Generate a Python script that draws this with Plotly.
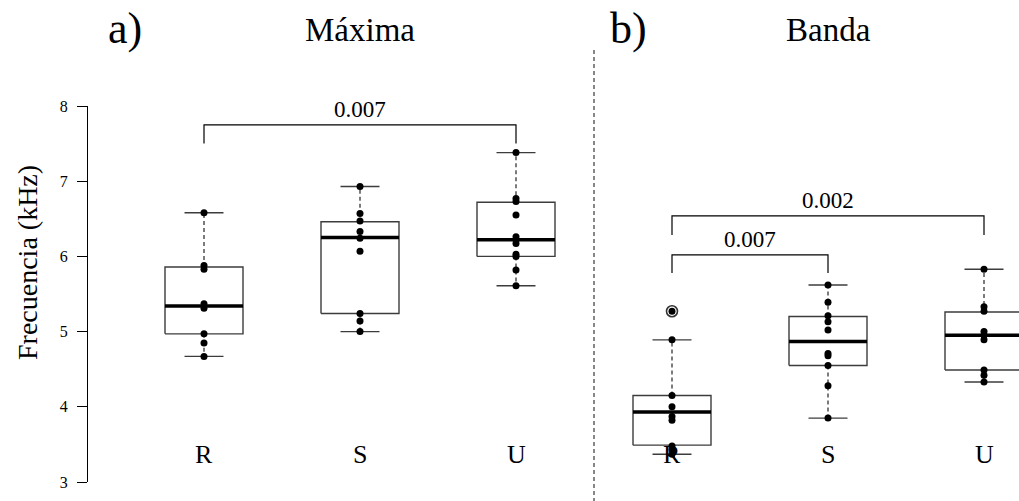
import plotly.graph_objects as go

# ---------------- data ----------------
categories = ["R", "S", "U"]
panels = ["Máxima", "Banda"]
panel_tags = ["a)", "b)"]

maxima_R = [6.58, 5.88, 5.83, 5.37, 5.31, 4.97, 4.85, 4.67]
maxima_S = [6.93, 6.57, 6.47, 6.33, 6.24, 6.07, 5.24, 5.14, 5.00]
maxima_U = [7.38, 6.77, 6.73, 6.55, 6.26, 6.22, 6.17, 6.03, 6.00, 5.82, 5.61]
banda_R = [5.27, 4.89, 4.15, 4.00, 3.87, 3.82, 3.48, 3.43, 3.37]
banda_S = [5.62, 5.39, 5.21, 5.13, 5.02, 4.71, 4.68, 4.55, 4.28, 3.85]
banda_U = [5.83, 5.33, 5.27, 5.00, 4.95, 4.89, 4.49, 4.42, 4.33]

# box statistics per group (order: Máxima R,S,U, Banda R,S,U)
q1_vals = [4.97, 5.24, 6.00, 3.49, 4.55, 4.49]
median_vals = [5.34, 6.25, 6.22, 3.93, 4.87, 4.95]
q3_vals = [5.86, 6.46, 6.72, 4.15, 5.20, 5.26]
lower_whisker = [4.67, 5.00, 5.61, 3.37, 3.85, 4.33]
upper_whisker = [6.58, 6.93, 7.38, 4.89, 5.62, 5.83]
outliers = [[], [], [], [5.27], [], []]

# significance brackets: (group a, group b, line level, drop-to level, label)
bracket_from = [1, 4, 4]
bracket_to = [3, 6, 5]
bracket_level = [7.75, 6.54, 6.02]
bracket_drop = [7.50, 6.285, 5.78]
bracket_label = ["0.007", "0.002", "0.007"]

y_ticks = [3, 4, 5, 6, 7, 8]
y_title = "Frecuencia (kHz)"

groups = [maxima_R, maxima_S, maxima_U, banda_R, banda_S, banda_U]
positions = [1, 2, 3, 4, 5, 6]

# ---------------- figure ----------------
FONT = "Liberation Serif"
fig = go.Figure()

BOX_HW = 0.25
CAP_HW = 0.125
BOX_COL = "#3c3c3c"

for p, q1, md, q3, lo, hi in zip(positions, q1_vals, median_vals, q3_vals,
                                 lower_whisker, upper_whisker):
    # dashed whiskers
    for a, b in ((q3, hi), (q1, lo)):
        fig.add_trace(go.Scatter(x=[p, p], y=[a, b], mode="lines",
                                 line=dict(color="#444444", width=1.4, dash="4px,3px"),
                                 hoverinfo="skip", showlegend=False))
    # caps
    for v in (lo, hi):
        fig.add_trace(go.Scatter(x=[p - CAP_HW, p + CAP_HW], y=[v, v], mode="lines",
                                 line=dict(color=BOX_COL, width=1.4),
                                 hoverinfo="skip", showlegend=False))
    # box
    fig.add_trace(go.Scatter(x=[p - BOX_HW, p + BOX_HW, p + BOX_HW, p - BOX_HW, p - BOX_HW],
                             y=[q1, q1, q3, q3, q1], mode="lines",
                             line=dict(color=BOX_COL, width=1.4),
                             fill="toself", fillcolor="white",
                             hoverinfo="skip", showlegend=False))
    # median
    fig.add_trace(go.Scatter(x=[p - BOX_HW, p + BOX_HW], y=[md, md], mode="lines",
                             line=dict(color="black", width=3.5),
                             hoverinfo="skip", showlegend=False))

# outlier rings
for p, outs in zip(positions, outliers):
    if outs:
        fig.add_trace(go.Scatter(x=[p] * len(outs), y=outs, mode="markers",
                                 marker=dict(symbol="circle-open", size=11, color="#333333",
                                             line=dict(color="#333333", width=1.6)),
                                 hoverinfo="skip", showlegend=False))

# data points
for p, vals in zip(positions, groups):
    fig.add_trace(go.Scatter(x=[p] * len(vals), y=vals, mode="markers",
                             marker=dict(color="black", size=7),
                             showlegend=False))

# brackets
for a, b, lvl, drop, lab in zip(bracket_from, bracket_to, bracket_level,
                                bracket_drop, bracket_label):
    fig.add_trace(go.Scatter(x=[a, a, b, b], y=[drop, lvl, lvl, drop], mode="lines",
                             line=dict(color="black", width=1.2),
                             hoverinfo="skip", showlegend=False))
    fig.add_annotation(x=(a + b) / 2, y=lvl, text=lab, showarrow=False,
                       xanchor="center", yanchor="bottom", yshift=1,
                       font=dict(family=FONT, size=23, color="black"))

# category labels
for p, cat in zip(positions, categories * 2):
    fig.add_annotation(x=p, y=3.36, text=cat, showarrow=False,
                       xanchor="center", yanchor="middle",
                       font=dict(family=FONT, size=26, color="black"))

# panel titles
L, R_, T, B = 88, 0, 106, 19
W, H = 1019, 501
pw, ph = W - L - R_, H - T - B


def px_x(x):
    return (x - L) / pw


def px_y(y):
    return (H - B - y) / ph


for tag, name, xt, xn in zip(panel_tags, panels, [125, 628], [360, 828]):
    fig.add_annotation(xref="paper", yref="paper", x=px_x(xt), y=px_y(28), text=tag,
                       xanchor="center", yanchor="middle",
                       showarrow=False, font=dict(family=FONT, size=44, color="black"))
    fig.add_annotation(xref="paper", yref="paper", x=px_x(xn), y=px_y(30), text=name,
                       xanchor="center", yanchor="middle",
                       showarrow=False, font=dict(family=FONT, size=33, color="black"))

# y title
fig.add_annotation(xref="paper", yref="paper", x=px_x(27), y=px_y(263), text=y_title,
                   textangle=-90, showarrow=False, xanchor="center", yanchor="middle",
                   font=dict(family=FONT, size=28, color="black"))

# divider
fig.add_shape(type="line", xref="paper", yref="paper",
              x0=px_x(594), x1=px_x(594), y0=px_y(50), y1=px_y(501),
              line=dict(color="#555555", width=1.4, dash="4px,3px"))

x0 = 1 - (204 - L) / 156.0
x1 = 6 + (W - 984) / 156.0

fig.update_layout(
    width=W, height=H,
    margin=dict(l=L, r=R_, t=T, b=B),
    paper_bgcolor="white", plot_bgcolor="white",
    showlegend=False,
    xaxis=dict(range=[x0, x1], visible=False, fixedrange=True),
    yaxis=dict(range=[3, 8], tickvals=y_ticks, ticks="outside", ticklen=10,
               tickwidth=1.2, tickcolor="black", showline=True, linecolor="black",
               linewidth=1.2, showgrid=False, zeroline=False,
               ticklabelstandoff=6,
               tickfont=dict(family=FONT, size=16, color="black")),
)

fig.write_html("out.html")
